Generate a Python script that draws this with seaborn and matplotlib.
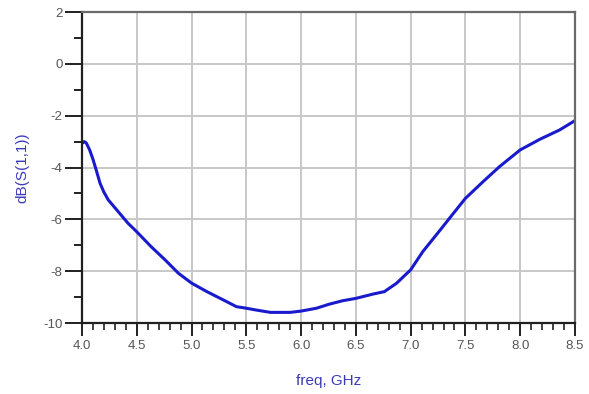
import matplotlib

matplotlib.use("Agg")
import matplotlib.pyplot as plt
import pandas as pd
import seaborn as sns
from matplotlib.ticker import MultipleLocator

# values
freq_ghz = [4.00, 4.02, 4.04, 4.07, 4.10, 4.13, 4.165, 4.20, 4.24, 4.33, 4.42, 4.50,
            4.63, 4.76, 4.88, 5.00, 5.14, 5.29, 5.41, 5.50, 5.59, 5.72, 5.90, 6.00,
            6.14, 6.26, 6.38, 6.50, 6.66, 6.76, 6.87, 7.00, 7.11, 7.27, 7.39, 7.50,
            7.66, 7.81, 8.00, 8.18, 8.36, 8.50]
s11_db = [-3.07, -3.00, -3.06, -3.32, -3.68, -4.10, -4.61, -4.95, -5.25, -5.70, -6.15, -6.48,
          -7.05, -7.57, -8.08, -8.46, -8.79, -9.11, -9.37, -9.43, -9.50, -9.59, -9.59, -9.54,
          -9.43, -9.27, -9.14, -9.05, -8.88, -8.79, -8.47, -7.95, -7.25, -6.41, -5.77, -5.19,
          -4.55, -3.97, -3.32, -2.91, -2.55, -2.19]

x_ticks = [4.0, 4.5, 5.0, 5.5, 6.0, 6.5, 7.0, 7.5, 8.0, 8.5]
y_ticks = [-10, -8, -6, -4, -2, 0, 2]

sns.set_style("white")
plt.rcParams["font.family"] = ["Liberation Sans", "DejaVu Sans"]
plt.rcParams["axes.unicode_minus"] = False

df = pd.DataFrame({"freq": freq_ghz, "s11": s11_db})

fig = plt.figure(figsize=(5.89, 3.94), dpi=100)
ax = fig.add_axes([0.1392, 0.1802, 0.837, 0.7893])

sns.lineplot(data=df, x="freq", y="s11", ax=ax, color="#1a1acd", linewidth=2.2)

ax.set_xlim(4.0, 8.5)
ax.set_ylim(-10, 2)
ax.set_xticks(x_ticks)
ax.set_xticklabels([f"{v:.1f}" for v in x_ticks])
ax.set_yticks(y_ticks)
ax.xaxis.set_minor_locator(MultipleLocator(0.1))
ax.yaxis.set_minor_locator(MultipleLocator(1))

ax.grid(True, which="major", color="#c8c8c8", linewidth=1.4)
ax.set_axisbelow(True)

for side in ["left", "bottom"]:
    ax.spines[side].set_color("#202020")
    ax.spines[side].set_linewidth(1.6)
for side in ["top", "right"]:
    ax.spines[side].set_color("#6a6a6a")
    ax.spines[side].set_linewidth(1.6)

ax.tick_params(axis="both", which="both", bottom=True, left=True, top=False, right=False)
ax.tick_params(axis="both", which="major", direction="out", colors="#202020",
               labelcolor="#555555", labelsize=9.5, width=1.4)
ax.tick_params(axis="y", which="major", length=12, pad=2)
ax.tick_params(axis="y", which="minor", direction="out", length=6, width=1.4, color="#202020")
ax.tick_params(axis="x", which="major", length=9, pad=3)
ax.tick_params(axis="x", which="minor", direction="out", length=5, width=1.2, color="#202020")

ax.set_xlabel("freq, GHz", color="#3a3ab8", fontsize=11, labelpad=16)
ax.set_ylabel("dB(S(1,1))", color="#3a3ab8", fontsize=11, labelpad=10)

fig.savefig("out.png", dpi=100)
